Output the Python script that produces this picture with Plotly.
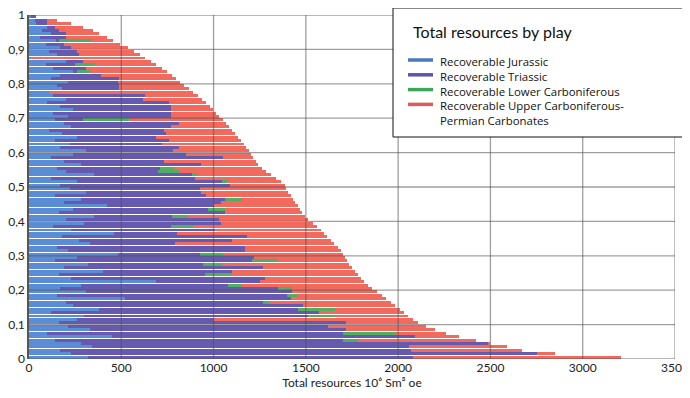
import plotly.graph_objects as go

# Monte Carlo runs sorted by total, bottom (p=0) to top (p=1); values in 10^6 Sm3 oe
jurassic = [320, 230, 170, 340, 280, 140, 450, 100, 330, 210,
            160, 260, 300, 120, 380, 240, 200, 520, 150, 310,
            170, 280, 690, 230, 160, 400, 190, 320, 140, 260,
            480, 210, 150, 330, 270, 180, 460, 230, 130, 300,
            200, 350, 160, 240, 420, 190, 280, 140, 310, 220,
            170, 260, 120, 350, 200, 150, 280, 190, 120, 240,
            310, 170, 220, 140, 260, 180, 110, 230, 190, 140,
            210, 130, 240, 170, 100, 200, 130, 110, 180, 150,
            210, 120, 170, 240, 130, 90, 200, 10, 150, 110,
            170, 90, 150, 60, 120, 70, 100, 40, 30, 10]
triassic = [1760, 2520, 1900, 1720, 2210, 1560, 1640, 1600, 1390, 1410,
            1555, 740, 1210, 1450, 1080, 1245, 1070, 900, 1250, 1115,
            1180, 800, 560, 1050, 795, 700, 1080, 620, 1070, 960,
            445, 960, 1020, 460, 830, 1000, 340, 780, 640, 740,
            830, 425, 900, 730, 580, 850, 780, 820, 620, 705,
            920, 785, 780, 535, 500, 560, 650, 540, 930, 610,
            470, 640, 500, 620, 430, 560, 620, 540, 620, 150,
            560, 640, 530, 600, 660, 420, 500, 0, 310, 340,
            270, 370, 220, 20, 180, 160, 90, 0, 120, 150,
            60, 100, 10, 140, 80, 90, 40, 60, 70, 30]
lower_carb = [0, 0, 0, 0, 0, 85, 0, 290, 0, 0,
              0, 0, 150, 0, 200, 0, 30, 0, 60, 0,
              75, 75, 0, 0, 145, 0, 0, 105, 140, 0,
              125, 0, 0, 0, 0, 0, 0, 0, 120, 0,
              0, 85, 0, 90, 0, 0, 95, 0, 0, 0,
              0, 35, 0, 30, 110, 75, 0, 0, 0, 0,
              0, 0, 0, 0, 0, 0, 0, 0, 0, 250,
              0, 0, 0, 0, 0, 0, 0, 0, 0, 0,
              0, 0, 0, 70, 0, 110, 0, 0, 0, 0,
              0, 0, 180, 0, 0, 0, 0, 0, 0, 0]
upper_carb = [1130, 100, 600, 530, 10, 635, 240, 270, 480, 530,
              395, 1080, 395, 460, 350, 500, 660, 515, 450, 460,
              435, 682, 565, 520, 685, 665, 480, 690, 372, 493,
              650, 518, 502, 865, 535, 435, 800, 570, 670, 500,
              482, 635, 420, 408, 455, 402, 275, 458, 475, 470,
              295, 285, 440, 395, 475, 477, 310, 498, 165, 352,
              410, 368, 445, 388, 440, 375, 370, 315, 258, 510,
              262, 245, 228, 210, 200, 318, 285, 780, 375, 352,
              340, 308, 385, 420, 410, 330, 370, 620, 330, 310,
              305, 305, 115, 220, 180, 185, 150, 130, 50, 0]

series = [
    ("Recoverable Jurassic", jurassic, "#5b8cd6", "#4a78b8"),
    ("Recoverable Triassic", triassic, "#6559b0", "#5e55a8"),
    ("Recoverable Lower Carboniferous", lower_carb, "#4fae62", "#3fa55a"),
    ("Recoverable Upper Carboniferous-", upper_carb, "#f26a5e", "#e05a5a"),
]
legend_text = ("Recoverable Jurassic<br>Recoverable Triassic<br>"
               "Recoverable Lower Carboniferous<br>Recoverable Upper Carboniferous-<br>"
               "Permian Carbonates")

n = len(jurassic)
prob = [(i + 0.5) / n for i in range(n)]

# page body has an 8px margin; size the figure so the plot box lands at
# x 29..675, y 15..359 in the 690x398 window
OFF = 8
W, H = 690 - OFF, 398 - OFF
L, R, T, B = 29 - OFF, 15, 15 - OFF, 39
PW, PH = W - L - R, H - T - B


def px(x):
    return (x - OFF - L) / PW


def py(y):
    return (H - B - (y - OFF)) / PH


fig = go.Figure()
for name, vals, color, _ in series:
    fig.add_trace(go.Bar(x=vals, y=prob, orientation="h", name=name,
                         marker=dict(color=color, line=dict(width=0)),
                         showlegend=False))

font = "Lato, 'Open Sans', sans-serif"
fig.update_layout(
    width=W, height=H, barmode="stack", bargap=0.14,
    margin=dict(l=L, r=R, t=T, b=B),
    paper_bgcolor="white", plot_bgcolor="white",
    separators=", ",
    font=dict(family=font, size=12, color="#222"),
    xaxis=dict(range=[0, 3500], dtick=500, showgrid=False, zeroline=False,
               ticks="", ticklen=0, automargin=False, ticklabeloverflow="allow",
               title=dict(text="Total resources 10⁶ Sm³ oe", font=dict(size=12), standoff=0)),
    yaxis=dict(range=[0, 1], dtick=0.1, showgrid=False, zeroline=False, automargin=False,
               ticklabeloverflow="allow",
               showline=True, linecolor="#555", linewidth=1.5, ticks="", ticklen=0),
)

# grid drawn over the bars, as in the source figure
grid = "rgba(80,80,80,0.55)"
for gx in range(500, 3501, 500):
    fig.add_shape(type="line", x0=gx, x1=gx, y0=0, y1=1, xref="x", yref="y",
                  line=dict(color=grid, width=1.3), layer="above")
for k in range(0, 11):
    fig.add_shape(type="line", x0=0, x1=3500, y0=k / 10, y1=k / 10, xref="x", yref="y",
                  line=dict(color=grid, width=1.3), layer="above")

# legend box
fig.add_shape(type="rect", xref="paper", yref="paper",
              x0=px(393), x1=px(687), y0=py(137), y1=py(8),
              fillcolor="white", line=dict(color="#111", width=1), layer="above")
fig.add_annotation(xref="paper", yref="paper", x=px(411), y=py(32), xanchor="left",
                   yanchor="middle", text="Total resources by play", showarrow=False,
                   font=dict(size=16, color="#111"))
item_y = [60, 74.8, 89.6, 104.4]
for (name, _, _, lc), iy in zip(series, item_y):
    fig.add_shape(type="line", xref="paper", yref="paper",
                  x0=px(408), x1=px(433), y0=py(iy), y1=py(iy),
                  line=dict(color=lc, width=3.5), layer="above")
fig.add_annotation(xref="paper", yref="paper", x=px(438), y=py(51.5),
                   xanchor="left", yanchor="top", align="left", text=legend_text,
                   showarrow=False,
                   font=dict(size=11.4, color="#111", family="'Open Sans', sans-serif"))

fig.write_html("out.html")
